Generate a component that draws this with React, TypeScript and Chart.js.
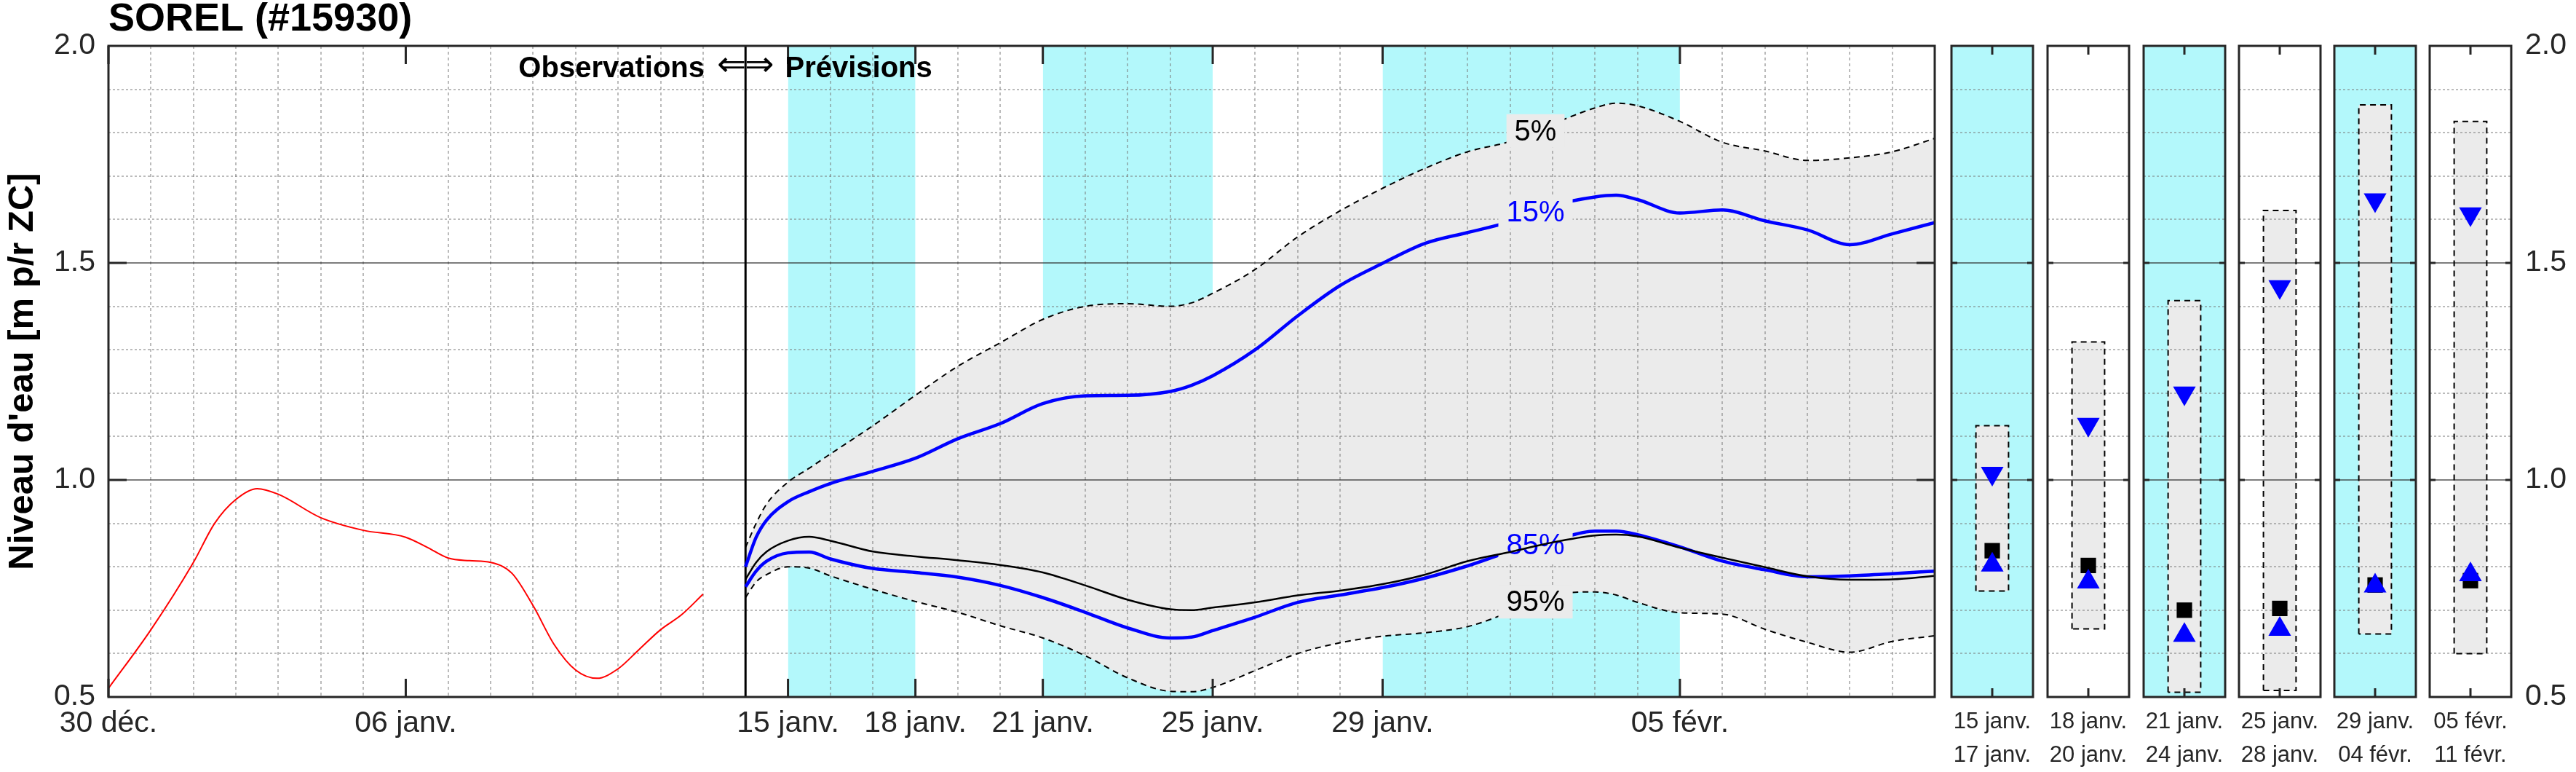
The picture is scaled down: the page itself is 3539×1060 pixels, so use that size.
import React, { useEffect, useRef } from "react";
import { Chart, registerables } from "chart.js";

Chart.register(...registerables);

const FONT = '"Liberation Sans", Arial, Helvetica, sans-serif';
const AXIS_COLOR = "#262626";
const CYAN = "#b3f8fb";
const ENVELOPE = "#ebebeb";
const BLUE = "#0000ff";

// ---- Observations (days since 30 déc.) ----
const obsDays = [0, 1, 2, 2.5, 3, 3.5, 4, 5, 6, 7, 7.5, 8, 8.5, 9, 9.5, 10, 10.5, 11, 11.5, 12, 12.5, 13, 13.5, 14];
const obsLevels = [0.52, 0.655, 0.81, 0.9, 0.955, 0.98, 0.967, 0.913, 0.884, 0.868, 0.845, 0.82, 0.814, 0.81, 0.785, 0.71, 0.62, 0.562, 0.543, 0.565, 0.61, 0.655, 0.69, 0.737];

// ---- Forecast (days since 30 déc.) ----
const fcDays = [15, 15.25, 15.5, 16, 16.5, 17, 18, 19, 20, 21, 22, 23, 24, 25, 25.5, 26, 27, 28, 29, 30, 31, 32, 33, 34, 35, 35.5, 36, 37, 38, 39, 40, 41, 42, 43];
const p05 = [0.845, 0.9, 0.945, 0.995, 1.027, 1.06, 1.125, 1.195, 1.262, 1.316, 1.37, 1.4, 1.406, 1.4, 1.408, 1.43, 1.485, 1.56, 1.62, 1.672, 1.718, 1.756, 1.78, 1.82, 1.857, 1.868, 1.862, 1.826, 1.778, 1.758, 1.736, 1.742, 1.756, 1.787];
const p15 = [0.8, 0.868, 0.908, 0.95, 0.973, 0.992, 1.02, 1.05, 1.095, 1.13, 1.176, 1.194, 1.195, 1.204, 1.218, 1.24, 1.3, 1.378, 1.448, 1.499, 1.545, 1.57, 1.595, 1.632, 1.652, 1.656, 1.646, 1.615, 1.622, 1.597, 1.576, 1.542, 1.567, 1.593];
const p50 = [0.771, 0.81, 0.835, 0.86, 0.869, 0.86, 0.835, 0.824, 0.815, 0.804, 0.787, 0.757, 0.724, 0.702, 0.7, 0.706, 0.718, 0.734, 0.745, 0.76, 0.782, 0.813, 0.834, 0.856, 0.872, 0.874, 0.87, 0.844, 0.821, 0.799, 0.778, 0.77, 0.771, 0.779];
const p85 = [0.754, 0.79, 0.813, 0.832, 0.834, 0.818, 0.796, 0.787, 0.776, 0.757, 0.729, 0.695, 0.659, 0.636, 0.638, 0.653, 0.684, 0.718, 0.735, 0.752, 0.774, 0.802, 0.835, 0.86, 0.882, 0.882, 0.874, 0.846, 0.813, 0.793, 0.777, 0.779, 0.784, 0.79];
const p95 = [0.729, 0.765, 0.782, 0.8, 0.797, 0.779, 0.748, 0.72, 0.695, 0.664, 0.636, 0.595, 0.544, 0.513, 0.512, 0.522, 0.561, 0.6, 0.625, 0.64, 0.648, 0.662, 0.696, 0.735, 0.742, 0.735, 0.718, 0.694, 0.691, 0.656, 0.626, 0.603, 0.628, 0.641];

const forecastStartDay = 15;
const dayMax = 43;

// ---- Axis ticks ----
const mainTickDays = [0, 7, 16, 19, 22, 26, 30, 37];
const mainTickLabels = ["30 déc.", "06 janv.", "15 janv.", "18 janv.", "21 janv.", "25 janv.", "29 janv.", "05 févr."];
const yMajorTicks = [1.0, 1.5];

// ---- Shaded periods ----
const bandStart = [16, 22, 30];
const bandEnd = [19, 26, 37];

// ---- Percentile labels ----
const labelDay = 33.6;
const pctLabelTexts = ["5%", "15%", "85%", "95%"];
const pctLabelColors = ["#000000", BLUE, BLUE, "#000000"];
const pctLabelSeries = [p05, p15, p85, p95];

// ---- Period panels ----
const panelStartLabels = ["15 janv.", "18 janv.", "21 janv.", "25 janv.", "29 janv.", "05 févr."];
const panelEndLabels = ["17 janv.", "20 janv.", "24 janv.", "28 janv.", "04 févr.", "11 févr."];
const panelHigh = [1.125, 1.318, 1.413, 1.621, 1.864, 1.826];
const panelLow = [0.744, 0.657, 0.511, 0.515, 0.645, 0.6];
const panelQ15 = [1.015, 1.128, 1.2, 1.445, 1.645, 1.613];
const panelMedian = [0.837, 0.803, 0.7, 0.704, 0.758, 0.768];
const panelQ85 = [0.804, 0.765, 0.642, 0.656, 0.756, 0.782];
const panelCyan = [true, false, true, false, true, false];

// ---- layout (pixels) ----
const PLOT_TOP = 63;
const PLOT_BOTTOM = 957;
const MAIN_LEFT = 149;
const MAIN_RIGHT = 2659;
const MAIN_CANVAS_W = 2670;
const CANVAS_H = 1060;
const PAGE_W = 3539;
const PANEL_LEFTS = [2681, 2813, 2945, 3076, 3207, 3338];
const PANEL_W = 112;
const PANEL_SIDE_PAD = 62;

function toXY(xs: number[], ys: number[]) {
  return xs.map((x, i) => ({ x, y: ys[i] }));
}

function interp(xs: number[], ys: number[], d: number) {
  for (let k = 0; k < xs.length - 1; k++) {
    if (d >= xs[k] && d <= xs[k + 1]) {
      const t = (d - xs[k]) / (xs[k + 1] - xs[k]);
      return ys[k] + t * (ys[k + 1] - ys[k]);
    }
  }
  return ys[ys.length - 1];
}

const tenth = (v: number) => Math.round(v * 10);

const yGrid = {
  color: (c: any) => {
    const v = c.tick?.value;
    if (v == null) return "transparent";
    const r = tenth(v);
    if (r === 5 || r === 20) return "transparent";
    if (r === 10 || r === 15) return "rgba(38,38,38,0.6)";
    return "rgba(120,120,120,0.5)";
  },
  lineWidth: 2,
  drawTicks: false,
};
const yBorder = {
  display: false,
  dash: (c: any) => {
    const v = c.tick?.value;
    if (v == null) return [];
    return tenth(v) % 5 === 0 ? [] : [3, 3];
  },
};
const yLabel = (v: any) => {
  const r = tenth(Number(v));
  return r % 5 === 0 ? (r / 10).toFixed(1) : "";
};

function drawFrame(chart: any, xTicks: number[], lenX: number, lenY: number) {
  const { ctx, chartArea, scales } = chart;
  const { left, top, right, bottom } = chartArea;
  ctx.save();
  ctx.strokeStyle = AXIS_COLOR;
  ctx.lineWidth = 3;
  ctx.beginPath();
  for (const d of xTicks) {
    const px = scales.x.getPixelForValue(d);
    ctx.moveTo(px, bottom);
    ctx.lineTo(px, bottom - lenX);
    ctx.moveTo(px, top);
    ctx.lineTo(px, top + lenX);
  }
  for (const v of yMajorTicks) {
    const py = scales.y.getPixelForValue(v);
    ctx.moveTo(left, py);
    ctx.lineTo(left + lenY, py);
    ctx.moveTo(right, py);
    ctx.lineTo(right - lenY, py);
  }
  ctx.stroke();
  ctx.strokeRect(left, top, right - left, bottom - top);
  ctx.restore();
}

function MainChart() {
  const ref = useRef<HTMLCanvasElement>(null);
  useEffect(() => {
    const canvas = ref.current!;
    const lineBase = { pointRadius: 0, cubicInterpolationMode: "monotone" as const, fill: false };
    const datasets: any[] = [
      { ...lineBase, data: toXY(fcDays, p05), borderColor: "#000", borderWidth: 2, borderDash: [8, 6], fill: 1, backgroundColor: ENVELOPE, order: 5 },
      { ...lineBase, data: toXY(fcDays, p95), borderColor: "#000", borderWidth: 2, borderDash: [8, 6], order: 5 },
      ...bandStart.map((s, i) => ({
        data: [{ x: s, y: 2 }, { x: bandEnd[i], y: 2 }],
        borderColor: "transparent", borderWidth: 0, pointRadius: 0, fill: "start", backgroundColor: CYAN, order: 10,
      })),
      { data: [{ x: forecastStartDay, y: 0.5 }, { x: forecastStartDay, y: 2 }], borderColor: "#000", borderWidth: 3, pointRadius: 0, tension: 0, fill: false, order: 4 },
      { ...lineBase, data: toXY(obsDays, obsLevels), borderColor: "#ff0000", borderWidth: 2, order: 3 },
      { ...lineBase, data: toXY(fcDays, p15), borderColor: BLUE, borderWidth: 4.5, order: 3 },
      { ...lineBase, data: toXY(fcDays, p85), borderColor: BLUE, borderWidth: 4.5, order: 2 },
      { ...lineBase, data: toXY(fcDays, p50), borderColor: "#000", borderWidth: 2.5, order: 1 },
    ];
    const p85Index = datasets.length - 2;

    const decor = {
      id: "mainDecor",
      afterDatasetDraw(chart: any, args: any) {
        if (args.index !== p85Index) return;
        const { ctx, scales } = chart;
        ctx.save();
        ctx.font = `40px ${FONT}`;
        ctx.textAlign = "center";
        ctx.textBaseline = "middle";
        pctLabelTexts.forEach((t, i) => {
          const px = scales.x.getPixelForValue(labelDay);
          const py = scales.y.getPixelForValue(interp(fcDays, pctLabelSeries[i], labelDay));
          const w = ctx.measureText(t).width;
          ctx.fillStyle = ENVELOPE;
          ctx.fillRect(px - w / 2 - 11, py - 23, w + 22, 46);
          ctx.fillStyle = pctLabelColors[i];
          ctx.fillText(t, px, py + 2);
        });
        ctx.restore();
      },
      afterDatasetsDraw(chart: any) {
        drawFrame(chart, mainTickDays, 25, 25);
        const { ctx, scales } = chart;
        const dx = scales.x.getPixelForValue(forecastStartDay);
        ctx.save();
        ctx.fillStyle = "#000";
        ctx.font = `48px "DejaVu Sans", sans-serif`;
        const aw = ctx.measureText("⇐").width;
        ctx.textBaseline = "middle";
        ctx.textAlign = "right";
        ctx.fillText("⇐", dx + 1, 92);
        ctx.textAlign = "left";
        ctx.fillText("⇒", dx - 1, 92);
        ctx.font = `bold 40px ${FONT}`;
        ctx.textBaseline = "alphabetic";
        ctx.textAlign = "right";
        ctx.fillText("Observations", dx - aw - 16, 106);
        ctx.textAlign = "left";
        ctx.fillText("Prévisions", dx + aw + 14, 106);
        ctx.restore();
      },
    };

    const chart = new Chart(canvas, {
      type: "line",
      data: { datasets },
      options: {
        responsive: false,
        animation: false,
        events: [],
        layout: { padding: { left: 0, right: MAIN_CANVAS_W - MAIN_RIGHT, top: 0, bottom: 0 } },
        plugins: {
          legend: { display: false },
          tooltip: { enabled: false },
          filler: { propagate: false, drawTime: "beforeDraw" },
          title: {
            display: true,
            text: "SOREL (#15930)",
            align: "start",
            fullSize: false,
            color: "#000",
            font: { family: FONT, size: 54, weight: "bold", lineHeight: 1.0 },
            padding: { top: 0, bottom: PLOT_TOP - 54 },
          },
        },
        scales: {
          x: {
            type: "linear",
            min: 0,
            max: dayMax,
            afterFit: (s: any) => { s.height = CANVAS_H - PLOT_BOTTOM; },
            ticks: {
              stepSize: 1,
              autoSkip: false,
              maxRotation: 0,
              minRotation: 0,
              padding: 12,
              color: AXIS_COLOR,
              font: { family: FONT, size: 41, lineHeight: 1.2 },
              callback: (v: any) => {
                const n = Number(v);
                const k = mainTickDays.findIndex((d) => Math.abs(d - n) < 1e-6);
                return k >= 0 ? mainTickLabels[k] : "";
              },
            },
            grid: {
              color: (c: any) => {
                const v = c.tick?.value;
                if (v == null) return "transparent";
                if (v <= 0 || v >= dayMax) return "transparent";
                if (mainTickDays.some((d) => Math.abs(d - v) < 1e-6)) return "transparent";
                return "rgba(120,120,120,0.5)";
              },
              lineWidth: 2,
              drawTicks: false,
            },
            border: { display: false, dash: [4, 4] },
          },
          y: {
            type: "linear",
            min: 0.5,
            max: 2.0,
            afterFit: (s: any) => { s.width = MAIN_LEFT; },
            ticks: {
              stepSize: 0.1,
              autoSkip: false,
              padding: 18,
              color: AXIS_COLOR,
              font: { family: FONT, size: 41 },
              callback: yLabel,
            },
            grid: yGrid,
            border: yBorder,
            title: {
              display: true,
              text: "Niveau d'eau [m p/r ZC]",
              color: "#000",
              font: { family: FONT, size: 49, weight: "bold", lineHeight: 1.2 },
              padding: { top: 2, bottom: 0 },
            },
          },
        },
      } as any,
      plugins: [decor],
    });
    return () => chart.destroy();
  }, []);
  return (
    <canvas
      ref={ref}
      width={MAIN_CANVAS_W}
      height={CANVAS_H}
      style={{ position: "absolute", left: 0, top: 0, width: MAIN_CANVAS_W, height: CANVAS_H }}
    />
  );
}

function Panel({ i }: { i: number }) {
  const ref = useRef<HTMLCanvasElement>(null);
  const isLast = i === PANEL_LEFTS.length - 1;
  const padL = PANEL_SIDE_PAD;
  const padR = isLast ? 0 : PANEL_SIDE_PAD;
  const axisW = isLast ? PAGE_W - (PANEL_LEFTS[i] + PANEL_W) : 0;
  const canvasLeft = PANEL_LEFTS[i] - padL;
  const canvasW = padL + PANEL_W + padR + axisW;

  useEffect(() => {
    const canvas = ref.current!;
    const datasets: any[] = [];
    if (panelCyan[i]) {
      datasets.push({
        data: [{ x: 0, y: 2 }, { x: 1, y: 2 }],
        borderColor: "transparent", borderWidth: 0, pointRadius: 0, fill: "start", backgroundColor: CYAN, order: 10,
      });
    }
    datasets.push({
      data: [
        { x: 0.3, y: panelLow[i] }, { x: 0.3, y: panelHigh[i] },
        { x: 0.7, y: panelHigh[i] }, { x: 0.7, y: panelLow[i] }, { x: 0.3, y: panelLow[i] },
      ],
      borderColor: "#000", borderWidth: 2, borderDash: [8, 6], pointRadius: 0, tension: 0,
      fill: "shape", backgroundColor: ENVELOPE, order: 5,
    });
    datasets.push({
      data: [{ x: 0.5, y: panelQ15[i] }], showLine: false, pointStyle: "triangle", pointRotation: 180,
      pointRadius: 18, pointBackgroundColor: BLUE, pointBorderWidth: 0, backgroundColor: BLUE, borderColor: BLUE, order: 3,
    });
    datasets.push({
      data: [{ x: 0.5, y: panelMedian[i] }], showLine: false, pointStyle: "rect",
      pointRadius: 15, pointBackgroundColor: "#000", pointBorderWidth: 0, backgroundColor: "#000", borderColor: "#000", order: 2,
    });
    datasets.push({
      data: [{ x: 0.5, y: panelQ85[i] }], showLine: false, pointStyle: "triangle",
      pointRadius: 18, pointBackgroundColor: BLUE, pointBorderWidth: 0, backgroundColor: BLUE, borderColor: BLUE, order: 1,
    });

    const decor = {
      id: "panelDecor",
      afterDatasetsDraw(chart: any) {
        drawFrame(chart, [0.5], 12, 8);
      },
    };

    const chart = new Chart(canvas, {
      type: "line",
      data: { datasets },
      options: {
        responsive: false,
        animation: false,
        events: [],
        layout: { padding: { left: padL, right: padR, top: PLOT_TOP, bottom: 0 } },
        plugins: {
          legend: { display: false },
          tooltip: { enabled: false },
          filler: { propagate: false, drawTime: "beforeDraw" },
        },
        scales: {
          x: {
            type: "linear",
            min: 0,
            max: 1,
            afterFit: (s: any) => { s.height = CANVAS_H - PLOT_BOTTOM; },
            afterBuildTicks: (s: any) => { s.ticks = [{ value: 0.5 }]; },
            ticks: {
              autoSkip: false,
              maxRotation: 0,
              minRotation: 0,
              padding: 11,
              color: AXIS_COLOR,
              font: { family: FONT, size: 31, lineHeight: 1.5 },
              callback: () => [panelStartLabels[i], panelEndLabels[i]],
            },
            grid: { display: false, drawTicks: false },
            border: { display: false },
          },
          y: {
            type: "linear",
            position: isLast ? "right" : "left",
            min: 0.5,
            max: 2.0,
            afterFit: (s: any) => { s.width = axisW; },
            ticks: {
              display: isLast,
              stepSize: 0.1,
              autoSkip: false,
              padding: 19,
              color: AXIS_COLOR,
              font: { family: FONT, size: 41 },
              callback: yLabel,
            },
            grid: yGrid,
            border: yBorder,
          },
        },
      } as any,
      plugins: [decor],
    });
    return () => chart.destroy();
  }, [i]);

  return (
    <canvas
      ref={ref}
      width={canvasW}
      height={CANVAS_H}
      style={{ position: "absolute", left: canvasLeft, top: 0, width: canvasW, height: CANVAS_H }}
    />
  );
}

export default function App() {
  return (
    <div style={{ position: "absolute", left: 0, top: 0, width: PAGE_W, height: CANVAS_H, background: "#fff", overflow: "hidden" }}>
      <MainChart />
      {panelStartLabels.map((_, i) => (
        <Panel key={i} i={i} />
      ))}
    </div>
  );
}
